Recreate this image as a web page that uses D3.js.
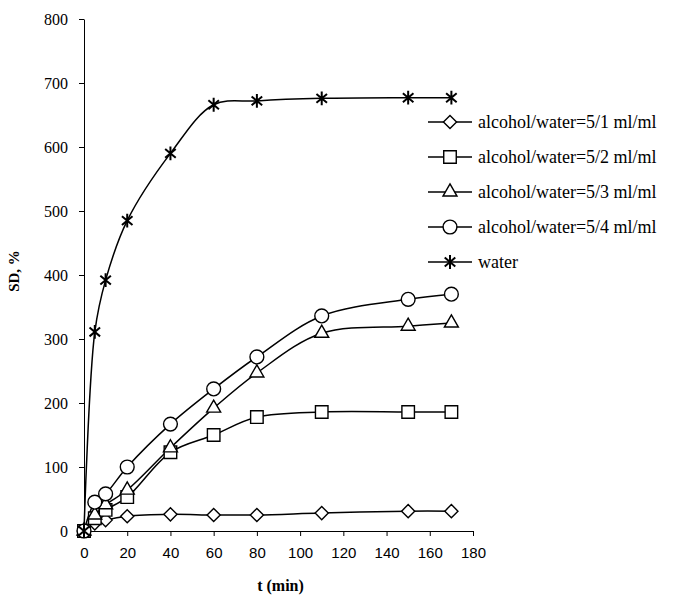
<!DOCTYPE html>
<html lang="en">
<head>
  <meta charset="UTF-8">
  <title>SD vs time</title>
  <script src="https://d3js.org/d3.v7.min.js"></script>
  <style>
    body { margin: 0; background: #fff; }
    svg { display: block; }
  </style>
</head>
<body>
<div id="chart"></div>
<script>
  // data
  const times = [0, 5, 10, 20, 40, 60, 80, 110, 150, 170];
  const ratio51 = [0, 12, 17, 23, 26, 25, 25, 28, 31, 31];
  const ratio52 = [0, 20, 33, 53, 123, 150, 178, 186, 186, 186];
  const ratio53 = [0, 25, 41, 64, 130, 192, 247, 309, 320, 325];
  const ratio54 = [0, 45, 58, 100, 167, 222, 272, 336, 362, 370];
  const water = [0, 311, 392, 485, 590, 666, 672, 676, 677, 677];
  const seriesNames = ["alcohol/water=5/1 ml/ml", "alcohol/water=5/2 ml/ml",
    "alcohol/water=5/3 ml/ml", "alcohol/water=5/4 ml/ml", "water"];
  const seriesMarkers = ["diamond", "square", "triangle", "circle", "star"];
  const xTicks = [0, 20, 40, 60, 80, 100, 120, 140, 160, 180];
  const yTicks = [0, 100, 200, 300, 400, 500, 600, 700, 800];

  const series = [ratio51, ratio52, ratio53, ratio54, water].map((vals, i) => ({
    name: seriesNames[i],
    marker: seriesMarkers[i],
    values: vals.map((v, j) => ({ t: times[j], v }))
  }));

  const width = 683, height = 600;
  const plotLeft = 84, plotRight = 473, plotTop = 19, plotBottom = 531;

  const svg = d3.select("#chart").append("svg")
    .attr("width", width)
    .attr("height", height);

  const x = d3.scaleLinear().domain([0, 180]).range([plotLeft, plotRight]);
  const y = d3.scaleLinear().domain([0, 800]).range([plotBottom, plotTop]);

  // axes
  const xAxis = svg.append("g")
    .attr("transform", `translate(0,${plotBottom})`)
    .call(d3.axisBottom(x).tickValues(xTicks).tickSize(5).tickSizeOuter(0).tickPadding(11));
  xAxis.selectAll("text")
    .attr("font-family", "'Liberation Sans', Arial, sans-serif")
    .attr("font-size", 15)
    .attr("fill", "#000");

  const yAxis = svg.append("g")
    .attr("transform", `translate(${plotLeft},0)`)
    .call(d3.axisLeft(y).tickValues(yTicks).tickSize(5).tickSizeOuter(0).tickPadding(11));
  yAxis.selectAll("text")
    .attr("font-family", "'Liberation Serif', 'Times New Roman', serif")
    .attr("font-size", 16)
    .attr("fill", "#000");
  svg.selectAll(".domain, .tick line").attr("stroke", "#000").attr("stroke-width", 1);

  // axis titles
  svg.append("text")
    .attr("x", (plotLeft + plotRight) / 2 + 2)
    .attr("y", 591)
    .attr("text-anchor", "middle")
    .attr("font-family", "'Liberation Serif', 'Times New Roman', serif")
    .attr("font-weight", "bold")
    .attr("font-size", 16)
    .text("t (min)");

  svg.append("text")
    .attr("transform", "translate(19,271) rotate(-90)")
    .attr("text-anchor", "middle")
    .attr("font-family", "'Liberation Serif', 'Times New Roman', serif")
    .attr("font-weight", "bold")
    .attr("font-size", 15)
    .text("SD, %");

  // marker shapes
  const symbolFor = {
    diamond: d3.symbol(d3.symbolDiamond2, 110),
    square: d3.symbol(d3.symbolSquare2, 200),
    triangle: d3.symbol(d3.symbolTriangle2, 140),
    circle: d3.symbol(d3.symbolCircle, 150),
    star: d3.symbol({
      draw(ctx, size) {
        const r = Math.sqrt(size) / 2;
        const a = r * Math.cos(Math.PI / 4.5), b = r * Math.sin(Math.PI / 4.5);
        ctx.moveTo(0, -r); ctx.lineTo(0, r);
        ctx.moveTo(-a, -b); ctx.lineTo(a, b);
        ctx.moveTo(-a, b); ctx.lineTo(a, -b);
      }
    }, 190)
  };

  function drawMarker(g, kind) {
    if (kind === "star") {
      g.append("path").attr("d", symbolFor.star())
        .attr("fill", "none").attr("stroke", "#000").attr("stroke-width", 2);
    } else {
      g.append("path").attr("d", symbolFor[kind]())
        .attr("fill", "#fff").attr("stroke", "#000").attr("stroke-width", 1.4);
    }
  }

  const line = d3.line()
    .x(d => x(d.t))
    .y(d => y(d.v))
    .curve(d3.curveCatmullRom.alpha(0.5));

  const plot = svg.append("g");
  series.forEach(s => {
    plot.append("path")
      .attr("d", line(s.values))
      .attr("fill", "none")
      .attr("stroke", "#000")
      .attr("stroke-width", 1.5);
  });
  series.forEach(s => {
    s.values.forEach(d => {
      const g = plot.append("g").attr("transform", `translate(${x(d.t)},${y(d.v)})`);
      drawMarker(g, s.marker);
    });
  });

  // legend
  const legend = svg.append("g").attr("transform", "translate(428,122)");
  series.forEach((s, i) => {
    const row = legend.append("g").attr("transform", `translate(0,${i * 35})`);
    row.append("line")
      .attr("x1", 0).attr("x2", 44)
      .attr("stroke", "#000").attr("stroke-width", 1.5);
    drawMarker(row.append("g").attr("transform", "translate(22,0)"), s.marker);
    row.append("text")
      .attr("x", 50)
      .attr("dy", "0.35em")
      .attr("font-family", "'Liberation Serif', 'Times New Roman', serif")
      .attr("font-size", 18)
      .text(s.name);
  });
</script>
</body>
</html>
